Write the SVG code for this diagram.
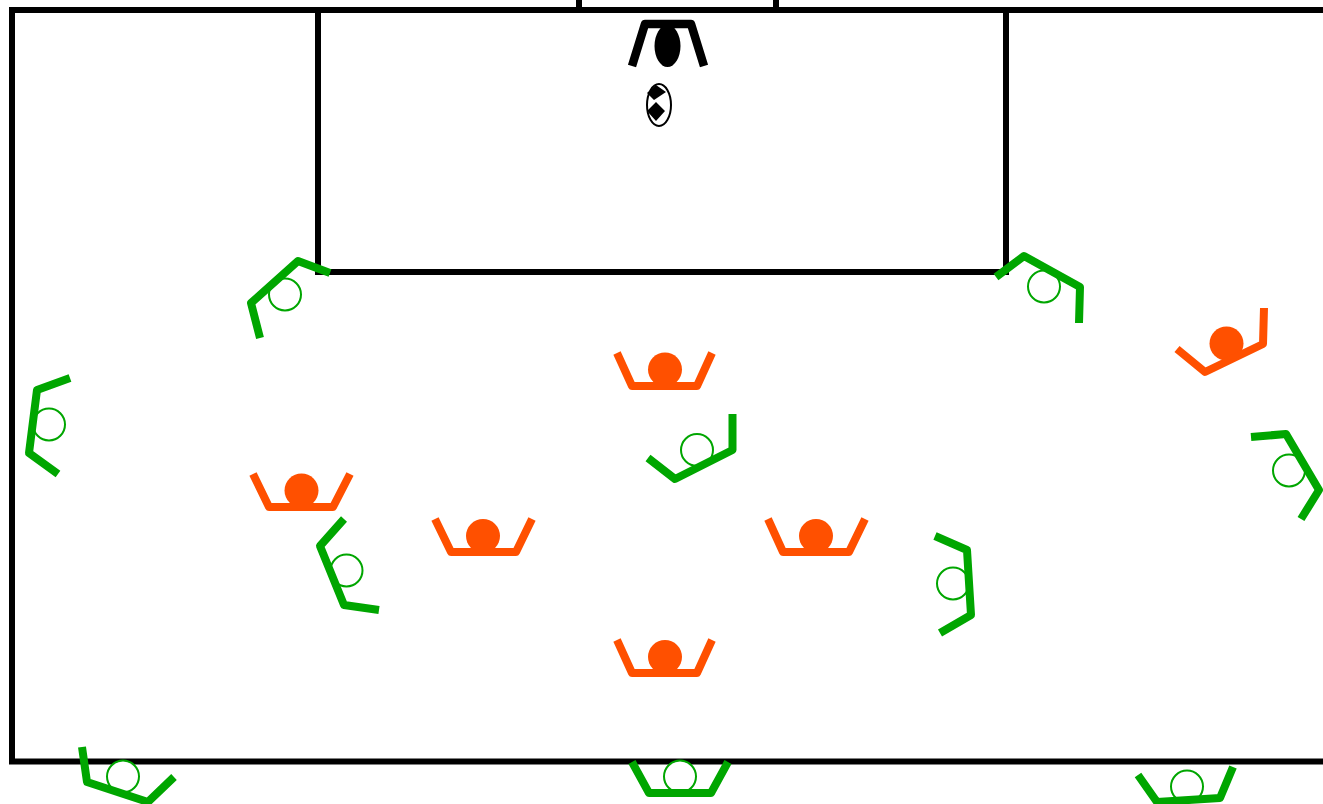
<svg xmlns="http://www.w3.org/2000/svg" width="1323" height="804" viewBox="0 0 1323 804">
<style>
.line{fill:none;stroke:#000;stroke-width:6}
.g circle{fill:#fff;stroke:#00a600;stroke-width:2}
.g polyline{fill:none;stroke:#00a600;stroke-width:8;stroke-linejoin:round}
.o circle{fill:#ff5000}
.o polyline{fill:none;stroke:#ff5000;stroke-width:8;stroke-linejoin:round}
</style>
<rect width="1323" height="804" fill="#fff"/>
<g id="field">
<rect class="line" x="12" y="10" width="1400" height="751.5"/>
<path class="line" d="M318 10V272H1006V10"/>
<path class="line" d="M579 0V10M776 0V10"/>
</g>
<g id="goalkeeper">
<ellipse cx="667.5" cy="46" rx="13" ry="21" fill="#000"/>
<polyline points="632,66 645,24 691,24 704,66" fill="none" stroke="#000" stroke-width="8.5" stroke-linejoin="round"/>
</g>
<g id="ball">
<ellipse cx="659" cy="105" rx="12" ry="21" fill="#fff" stroke="#000" stroke-width="2"/>
<path d="M656 85L666 92L654 100L647 93Z M656 102L665 111L656 121L647 111Z" fill="#000"/>
</g>
<g id="o1" class="o"><circle cx="665" cy="369.500" r="17"/><polyline points="617,353 632,386 697,386 712,353"/></g>
<g id="o2" class="o"><circle cx="301.500" cy="490.500" r="17"/><polyline points="253,474 269,507 333,507 350,474"/></g>
<g id="o3" class="o"><circle cx="483" cy="536" r="17"/><polyline points="435,519 451,552 516,552 532,519"/></g>
<g id="o4" class="o"><circle cx="816" cy="536" r="17"/><polyline points="768,519 783,552 849,552 865,519"/></g>
<g id="o5" class="o"><circle cx="665" cy="657" r="17"/><polyline points="617,640 632,673 697,673 712,640"/></g>
<g id="o6" class="o"><circle cx="1226.500" cy="343.500" r="17"/><polyline points="1264,308 1263,344 1205,372 1177,349"/></g>
<g id="g1" class="g"><circle cx="285" cy="294.500" r="16"/><polyline points="260,338 251,303 298,261 330,273"/></g>
<g id="g2" class="g"><circle cx="1044" cy="286.500" r="16"/><polyline points="996,277 1024,256 1080,287 1079,323"/></g>
<g id="g3" class="g"><circle cx="49" cy="424.500" r="16"/><polyline points="70,378 37,390 29,453 58,474"/></g>
<g id="g4" class="g"><circle cx="697" cy="450" r="16"/><polyline points="732.500,414 732.500,450 675,479 648,458"/></g>
<g id="g5" class="g"><circle cx="1289" cy="470.500" r="16"/><polyline points="1251,437 1286,434 1319,490 1301,519"/></g>
<g id="g6" class="g"><circle cx="346.500" cy="570.500" r="16"/><polyline points="344,519 320,546 344,605 379,610"/></g>
<g id="g7" class="g"><circle cx="953" cy="583.500" r="16"/><polyline points="935,536 967,550 971,615 940,633"/></g>
<g id="g8" class="g"><circle cx="123" cy="776.500" r="16"/><polyline points="82,747 87,782 148,802 174,777"/></g>
<g id="g9" class="g"><circle cx="680" cy="776.500" r="16"/><polyline points="632,762 649,793 711,793 728,762"/></g>
<g id="g10" class="g"><circle cx="1187" cy="786.500" r="16"/><polyline points="1138,775 1157,802 1220,798 1233,767"/></g>
</svg>
